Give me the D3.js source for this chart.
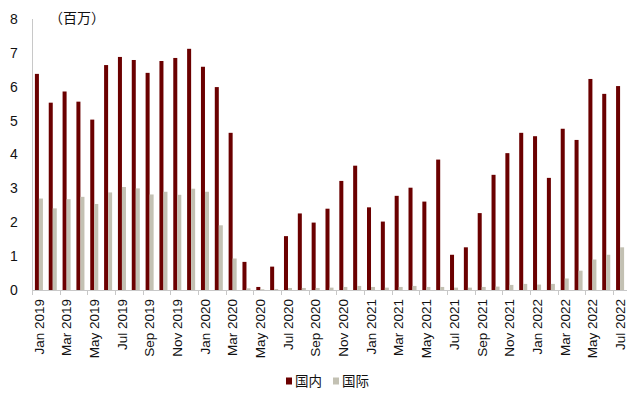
<!DOCTYPE html>
<html>
<head>
<meta charset="utf-8">
<script src="https://cdn.jsdelivr.net/npm/d3@7"></script>
<style>
  body { margin: 0; background: #fff; }
  svg { display: block; font-family: "Liberation Sans", Arial, sans-serif; }
</style>
</head>
<body>
<svg id="chart" width="640" height="398"></svg>
<script>
// monthly, Jan 2019 .. Jul 2022
const monthNames = ["Jan","Feb","Mar","Apr","May","Jun","Jul","Aug","Sep","Oct","Nov","Dec"];
const months = [];
for (let yr = 2019; yr <= 2022; yr++)
	for (let m = 0; m < 12; m++)
		if (!(yr == 2022 && m > 6)) months.push(monthNames[m] + " " + yr);

const seriesNames = ["国内", "国际"];
const domestic = [
	6.38, 5.53, 5.86, 5.56, 5.03, 6.64, 6.88, 6.79, 6.41, 6.76, 6.85, 7.12,
	6.59, 5.99, 4.64, 0.83, 0.09, 0.69, 1.59, 2.26, 1.99, 2.40, 3.22, 3.67,
	2.44, 2.02, 2.78, 3.02, 2.61, 3.85, 1.04, 1.26, 2.27, 3.40, 4.04, 4.64,
	4.54, 3.31, 4.76, 4.43, 6.23, 5.79, 6.02
];
const international = [
	2.70, 2.41, 2.68, 2.75, 2.54, 2.88, 3.04, 3.00, 2.82, 2.90, 2.81, 2.99,
	2.90, 1.91, 0.93, 0.05, 0.02, 0.03, 0.06, 0.06, 0.06, 0.07, 0.09, 0.12,
	0.09, 0.07, 0.09, 0.12, 0.09, 0.09, 0.07, 0.07, 0.09, 0.10, 0.15, 0.18,
	0.16, 0.18, 0.34, 0.57, 0.90, 1.04, 1.26
];
const yTicks = [0, 1, 2, 3, 4, 5, 6, 7, 8];
const colors = ["#6b0000", "#c3c1b3"];

const svg = d3.select("#chart");
const plotL = 32, plotR = 627, plotT = 19, plotB = 290;

const x = d3.scaleBand()
	.domain(months)
	.range([plotL, plotR])
	.paddingInner(0.42)
	.paddingOuter(0.21);

const x1 = d3.scaleBand()
	.domain(seriesNames)
	.range([0, x.bandwidth()]);

const y = d3.scaleLinear().domain([0, 8]).range([plotB, plotT]);

const rows = months.map((m, i) => ({month: m, vals: [domestic[i], international[i]]}));

// bars
svg.append("g")
  .selectAll("g")
  .data(rows)
  .enter()
  .append("g")
  .attr("transform", d => "translate(" + x(d.month) + ",0)")
  .selectAll("rect")
  .data(d => d.vals.map((v, k) => ({k: k, v: v})))
  .enter()
  .append("rect")
  .attr("x", d => x1(seriesNames[d.k]))
  .attr("width", x1.bandwidth())
  .attr("y", d => y(d.v))
  .attr("height", d => y(0) - y(d.v))
  .attr("fill", d => colors[d.k]);

// y axis (line + labels, no ticks)
svg.append("line")
   .attr("x1", plotL + 0.5).attr("x2", plotL + 0.5)
   .attr("y1", y(8)).attr("y2", y(0))
   .attr("stroke", "#c8c8c8").attr("stroke-width", 1);

svg.append("g")
  .selectAll("text")
  .data(yTicks)
  .enter()
  .append("text")
  .attr("x", 14)
  .attr("y", d => y(d))
  .attr("dy", "0.35em")
  .attr("text-anchor", "middle")
  .style("font-size", "14px")
  .attr("fill", "#111")
  .text(d => d);

// x axis
svg.append("line")
   .attr("x1", plotL).attr("x2", plotR)
   .attr("y1", y(0) + 0.5).attr("y2", y(0) + 0.5)
   .attr("stroke", "#c8c8c8");

const tickIdx = d3.range(0, months.length + 1, 2);
svg.append("g")
  .selectAll("line")
  .data(tickIdx)
  .enter()
  .append("line")
  .attr("x1", i => Math.round(plotL + i * x.step()) + 0.5)
  .attr("x2", i => Math.round(plotL + i * x.step()) + 0.5)
  .attr("y1", y(0))
  .attr("y2", y(0) + 5)
  .attr("stroke", "#c8c8c8");

svg.append("g")
  .selectAll("text")
  .data(months.filter((m, i) => i % 2 == 0))
  .enter()
  .append("text")
  .attr("transform", d => "translate(" + (x(d) + x.bandwidth() / 2 + 4.8) + "," + 299 + ") rotate(-90)")
  .attr("text-anchor", "end")
  .style("font-size", "13.5px")
  .attr("fill", "#111")
  .text(d => d);

// unit label
svg.append("text")
   .attr("x", 49)
   .attr("y", 23)
   .style("font-size", "14px")
   .style("font-family", "'Noto Sans CJK SC', sans-serif")
   .attr("fill", "#111")
   .text("（百万）");

// legend
const legend = svg.append("g")
	.selectAll("g")
	.data(seriesNames)
	.enter()
	.append("g")
	.attr("transform", (d, i) => "translate(" + (286 + i * 47) + ",381)");

legend.append("rect")
	.attr("x", 0).attr("y", -3.5)
	.attr("width", 6).attr("height", 7)
	.attr("fill", (d, i) => colors[i]);

legend.append("text")
	.attr("x", 9)
	.attr("dy", "0.35em")
	.style("font-size", "13.5px")
	.style("font-family", "'Noto Sans CJK SC', sans-serif")
	.attr("fill", "#111")
	.text(d => d);
</script>
</body>
</html>
